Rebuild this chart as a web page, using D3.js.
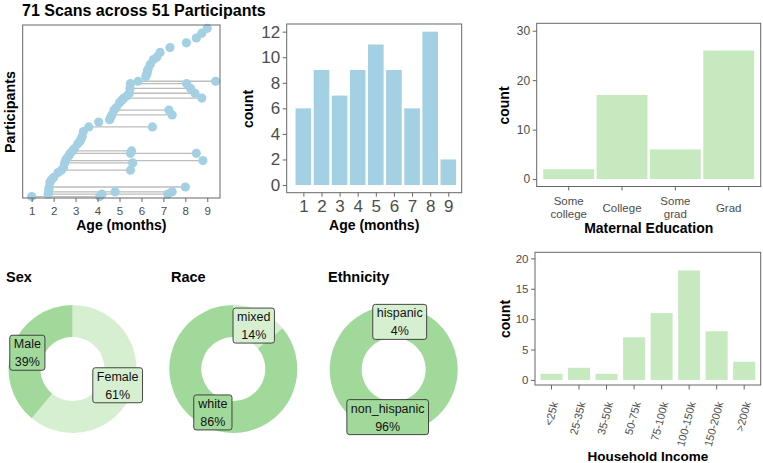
<!DOCTYPE html>
<html><head><meta charset="utf-8">
<script src="https://cdn.jsdelivr.net/npm/d3@7"></script>
<style>
body{margin:0;background:#fff;}
svg{font-family:"Liberation Sans", Arial, Helvetica, sans-serif;}
</style></head><body>
<svg id="chart" width="763" height="463"></svg>
<script>
// ---------------- DATA ----------------
const chartTitle = "71 Scans across 51 Participants";
// participants (ordered by age at first scan): plot row and first-scan age
const partRow = [1,2,3,4,5,7,8,9,11,12,13,15,16,17,18,19,20,21,23,24,25,26,28,30,32,33,34,35,37,38,40,41,42,43,44,46,48,49,51,52,53,54,56,58,59,61,63,65,67,69,71];
const partFirstAge = [1.0,1.75,1.77,1.78,1.8,1.83,1.9,2.0,2.2,2.35,2.45,2.5,2.55,2.6,2.7,2.75,2.85,2.95,3.1,3.2,3.25,3.3,3.35,3.6,4.05,4.55,4.6,4.65,4.75,4.85,5.0,5.1,5.2,5.35,5.45,5.48,5.5,5.85,6.2,6.25,6.27,6.3,6.4,6.55,6.7,6.85,7.3,8.05,8.5,8.75,9.0];
// follow-up scans: participant number (1-based) and age
const extraPart = [1,2,2,3,3,5,10,12,13,16,16,17,24,28,29,33,35,36,37,38];
const extraAge  = [4.1,4.2,7.2,4.8,7.4,8.0,5.5,5.6,8.8,5.5,8.5,5.55,6.5,7.4,7.25,8.75,8.44,8.24,8.06,9.38];
const ageTicks = [1,2,3,4,5,6,7,8,9];

const histAges = [1,2,3,4,5,6,7,8,9];
const histCounts = [6,9,7,9,11,9,6,12,2];
const histYTicks = [0,2,4,6,8,10,12];

const eduCats = ["Some\ncollege","College","Some\ngrad","Grad"];
const eduCounts = [2,17,6,26];
const eduYTicks = [0,10,20,30];

const incomeCats = ["<25k","25-35k","35-50k","50-75k","75-100k","100-150k","150-200k",">200k"];
const incomeCounts = [1,2,1,7,11,18,8,3];
const incomeYTicks = [0,5,10,15,20];

const sexLabels = ["Female","Male"];     const sexPct = [61,39];
const raceLabels = ["mixed","white"];    const racePct = [14,86];
const ethLabels = ["hispanic","non_hispanic"]; const ethPct = [4,96];

// ---------------- STYLE ----------------
const blue = "#a3d0e2", green = "#c7e9c0";
const pieLight = "#d6efd0", pieDark = "#a1d99b";
const frameCol = "#666", tickCol = "#4d4d4d", lineCol = "#bdbdbd";

const svg = d3.select("#chart");

function frame(g, L, T, R, B){
  g.append("rect").attr("x",L).attr("y",T).attr("width",R-L).attr("height",B-T)
   .attr("fill","none").attr("stroke",frameCol).attr("stroke-width",1);
}
function styleAxis(sel, fs){
  sel.select(".domain").remove();
  sel.selectAll(".tick line").attr("stroke",frameCol);
  sel.selectAll(".tick text").attr("fill",tickCol).style("font-size",fs+"px");
}
function axTitle(x,y,txt,rot,fs){
  const t = svg.append("text").attr("text-anchor","middle").attr("font-weight","bold")
    .style("font-size",(fs||14)+"px").attr("fill","#000").text(txt);
  if(rot) t.attr("transform",`translate(${x},${y}) rotate(-90)`).attr("dy","0.35em");
  else t.attr("x",x).attr("y",y);
}

// ---------------- TITLE ----------------
svg.append("text").attr("x",22).attr("y",15.5).attr("font-weight","bold")
  .style("font-size","16px").text(chartTitle);

// ---------------- DUMBBELL ----------------
{
  const L=22.7,R=220,T=25,B=198;
  const x = d3.scaleLinear().domain([0.59,9.58]).range([L,R]);
  const y = d3.scaleLinear().domain([0.42,72.4]).range([B,T]);
  const g = svg.append("g");
  // lines
  partRow.forEach((r,i)=>{
    const ages = [partFirstAge[i]];
    extraPart.forEach((p,j)=>{ if(p===i+1) ages.push(extraAge[j]); });
    if(ages.length>1){
      g.append("line").attr("x1",x(d3.min(ages))).attr("x2",x(d3.max(ages)))
       .attr("y1",y(r)).attr("y2",y(r)).attr("stroke",lineCol).attr("stroke-width",1.3);
    }
  });
  // points
  const pts = partRow.map((r,i)=>({a:partFirstAge[i],r}))
    .concat(extraPart.map((p,j)=>({a:extraAge[j],r:partRow[p-1]})));
  g.selectAll("circle.pt").data(pts).enter().append("circle")
    .attr("cx",d=>x(d.a)).attr("cy",d=>y(d.r)).attr("r",4.6).attr("fill",blue);
  frame(g,L,T,R,B);
  const ax = g.append("g").attr("transform",`translate(0,${B})`)
    .call(d3.axisBottom(x).tickValues(ageTicks).tickFormat(d3.format("d")).tickSize(4).tickPadding(5));
  styleAxis(ax,11.5);
  axTitle((L+R)/2,230,"Age (months)");
  axTitle(10,112,"Participants",true,14.3);
}

// ---------------- AGE HISTOGRAM ----------------
{
  const L=286.7,R=461.7,T=24,B=192.7;
  const x = d3.scaleLinear().domain([0.08,9.74]).range([L,R]);
  const y = d3.scaleLinear().domain([-0.6,12.6]).range([B,T]);
  const g = svg.append("g");
  const w = 0.86;
  g.selectAll("rect.bar").data(histAges).enter().append("rect")
    .attr("x",(d)=>x(d-w/2)).attr("width",(d)=>x(d+w/2)-x(d-w/2))
    .attr("y",(d,i)=>y(histCounts[i])).attr("height",(d,i)=>y(0)-y(histCounts[i]))
    .attr("fill",blue);
  frame(g,L,T,R,B);
  const ax = g.append("g").attr("transform",`translate(0,${B})`)
    .call(d3.axisBottom(x).tickValues(histAges).tickFormat(d3.format("d")).tickSize(4).tickPadding(3));
  styleAxis(ax,17);
  const ay = g.append("g").attr("transform",`translate(${L},0)`)
    .call(d3.axisLeft(y).tickValues(histYTicks).tickFormat(d3.format("d")).tickSize(4).tickPadding(2.5));
  styleAxis(ay,17);
  axTitle((L+R)/2,230,"Age (months)");
  axTitle(248,109,"count",true);
}

// ---------------- MATERNAL EDUCATION ----------------
{
  const L=536.7,R=760.7,T=23.3,B=186.5;
  const w = 0.955;
  const x = d3.scaleBand().domain(eduCats).range([L,R]).paddingInner(1-w).paddingOuter(0.6-w/2);
  const y = d3.scaleLinear().domain([-1.5,31.5]).range([B,T]);
  const g = svg.append("g");
  g.selectAll("rect.bar").data(eduCats).enter().append("rect")
    .attr("x",d=>x(d)).attr("width",x.bandwidth())
    .attr("y",(d,i)=>y(eduCounts[i])).attr("height",(d,i)=>y(0)-y(eduCounts[i]))
    .attr("fill",green);
  frame(g,L,T,R,B);
  const ax = g.append("g").attr("transform",`translate(0,${B})`)
    .call(d3.axisBottom(x).tickSize(4).tickPadding(3));
  styleAxis(ax,11.5);
  ax.selectAll(".tick text").each(function(d){
    const t = d3.select(this); const lines = d.split("\n");
    t.text(null).attr("y",null).attr("dy",null);
    const yStart = lines.length===1 ? 25 : 18.5;
    lines.forEach((ln,k)=>t.append("tspan").attr("x",0).attr("y", yStart + k*13.2).text(ln));
  });
  const ay = g.append("g").attr("transform",`translate(${L},0)`)
    .call(d3.axisLeft(y).tickValues(eduYTicks).tickSize(4).tickPadding(2.5));
  styleAxis(ay,12);
  axTitle((L+R)/2,233,"Maternal Education");
  axTitle(504.3,105.5,"count",true);
}

// ---------------- HOUSEHOLD INCOME ----------------
{
  const L=535,R=760.7,T=252.3,B=385;
  const w = 0.8;
  const x = d3.scaleBand().domain(incomeCats).range([L,R]).paddingInner(1-w).paddingOuter(0.6-w/2);
  const y = d3.scaleLinear().domain([-1,21]).range([B+1,T]);
  const g = svg.append("g");
  g.selectAll("rect.bar").data(incomeCats).enter().append("rect")
    .attr("x",d=>x(d)).attr("width",x.bandwidth())
    .attr("y",(d,i)=>y(incomeCounts[i])).attr("height",(d,i)=>y(0)-y(incomeCounts[i]))
    .attr("fill",green);
  frame(g,L,T,R,B);
  const ax = g.append("g").attr("transform",`translate(0,${B})`)
    .call(d3.axisBottom(x).tickSize(4.5).tickPadding(3));
  styleAxis(ax,11);
  ax.selectAll(".tick text").attr("y",null).attr("dy","0.35em").attr("text-anchor","end")
    .attr("transform","translate(3,17) rotate(-75)");
  const ay = g.append("g").attr("transform",`translate(${L},0)`)
    .call(d3.axisLeft(y).tickValues(incomeYTicks).tickSize(4).tickPadding(2.5));
  styleAxis(ay,11.5);
  axTitle((L+R)/2,461,"Household Income",false,13.5);
  axTitle(505,319,"count",true);
}

// ---------------- DONUTS ----------------
function donut(cx, cy, titleX, title, labels, pct){
  const g = svg.append("g");
  svg.append("text").attr("x",titleX).attr("y",282).attr("font-weight","bold")
    .style("font-size","14.5px").text(title);
  const pie = d3.pie().sort(null).value(d=>d)(pct);
  const rOut = 64, rIn = 32;
  const arc = d3.arc().innerRadius(rIn).outerRadius(rOut);
  const cols = [pieLight, pieDark];
  const gg = g.append("g").attr("transform",`translate(${cx},${cy})`);
  gg.selectAll("path").data(pie).enter().append("path").attr("d",arc).attr("fill",(d,i)=>cols[i]);
  const lab = d3.arc().innerRadius((rIn+rOut)/2).outerRadius((rIn+rOut)/2);
  pie.forEach((d,i)=>{
    const [lx,ly] = lab.centroid(d);
    const lg = gg.append("g").attr("transform",`translate(${lx},${ly})`);
    const rect = lg.append("rect");
    const t = lg.append("text").attr("text-anchor","middle").style("font-size","12.5px").attr("fill","#111");
    t.append("tspan").attr("x",0).attr("y",-4.5).text(labels[i]);
    t.append("tspan").attr("x",0).attr("y",13.5).text(pct[i]+"%");
    const bb = t.node().getBBox();
    const wdt = bb.width + 8, hgt = 35;
    rect.attr("x",-wdt/2).attr("y",-hgt/2).attr("width",wdt).attr("height",hgt)
      .attr("rx",2.5).attr("fill",cols[i]).attr("stroke","#333").attr("stroke-width",0.9);
  });
}
donut(72.5,369,6,"Sex",sexLabels,sexPct);
donut(233.3,369,171,"Race",raceLabels,racePct);
donut(393.7,369.5,328,"Ethnicity",ethLabels,ethPct);
</script>
</body></html>
